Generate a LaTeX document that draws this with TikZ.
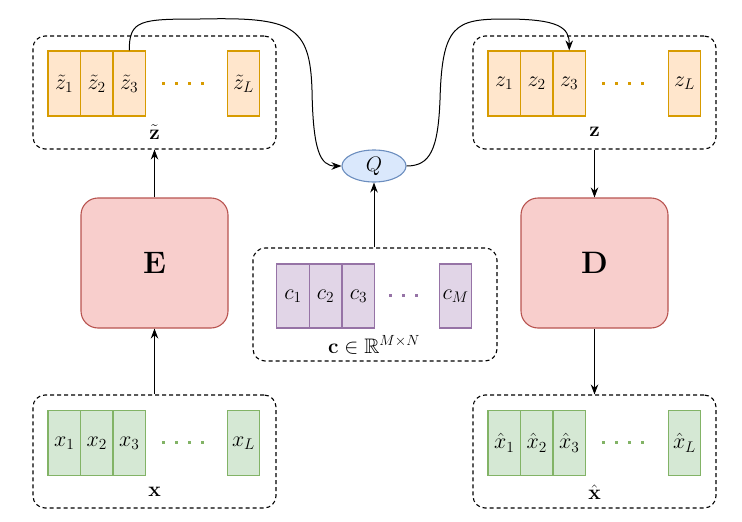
\RequirePackage{fix-cm}
\documentclass[tikz,border=0pt]{standalone}
\usepackage{amsmath,amssymb}
\usetikzlibrary{arrows.meta,shapes.geometric}
\definecolor{orS}{HTML}{D79B00}
\definecolor{orF}{HTML}{FFE6CC}
\definecolor{grS}{HTML}{82B366}
\definecolor{grF}{HTML}{D5E8D4}
\definecolor{puS}{HTML}{9673A6}
\definecolor{puF}{HTML}{E1D5E7}
\definecolor{reS}{HTML}{B85450}
\definecolor{reF}{HTML}{F8CECC}
\definecolor{blS}{HTML}{6C8EBF}
\definecolor{blF}{HTML}{DAE8FC}
\begin{document}
\begin{tikzpicture}[x=1pt,y=-1pt,
  font=\fontsize{22}{25}\selectfont,
  cell/.style={line width=1.2pt, minimum width=32.5pt, minimum height=65pt, inner sep=0pt},
  cellO/.style={cell, draw=orS, fill=orF},
  cellG/.style={cell, draw=grS, fill=grF},
  cellP/.style={cell, draw=puS, fill=puF, minimum height=64pt},
  group/.style={draw, dashed, dash pattern=on 4pt off 3pt, rounded corners=12pt, line width=1.1pt, minimum width=243pt, minimum height=113pt, inner sep=0pt},
  block/.style={draw=reS, fill=reF, rounded corners=17pt, line width=1.1pt, minimum width=147pt, minimum height=130pt, inner sep=0pt, font=\fontsize{31}{34}\selectfont},
  dots/.style={line width=3pt, dash pattern=on 3pt off 10pt},
  arr/.style={line width=1pt, -{Stealth[length=10pt,width=7.5pt]}},
  lbl/.style={inner sep=0pt, font=\fontsize{21}{24}\selectfont}
]
\useasboundingbox (0,0) rectangle (742,522);

% ---------- top-left: z tilde ----------
\node[group] (gZt) at (154.5,92.5) {};
\node[cellO] (zt1) at (64.25,83.5) {$\tilde{z}_1$};
\node[cellO] (zt2) at (96.75,83.5) {$\tilde{z}_2$};
\node[cellO] (zt3) at (129.25,83.5) {$\tilde{z}_3$};
\node[cellO] (ztL) at (243.5,83.5) {$\tilde{z}_L$};
\draw[dots, orS] (162,83) -- (204,83);
\node[lbl] (lZt) at (154.5,132) {$\tilde{\mathbf{z}}$};

% ---------- top-right: z ----------
\node[group] (gZ) at (594.5,92.5) {};
\node[cellO] (z1) at (504.25,83.5) {$z_1$};
\node[cellO] (z2) at (536.75,83.5) {$z_2$};
\node[cellO] (z3) at (569.25,83.5) {$z_3$};
\node[cellO] (zL) at (684.5,83.5) {$z_L$};
\draw[dots, orS] (602,83) -- (644,83);
\node[lbl] (lZ) at (594.5,132) {$\mathbf{z}$};

% ---------- bottom-left: x ----------
\node[group] (gX) at (154.5,451.5) {};
\node[cellG] (x1) at (64.25,443) {$x_1$};
\node[cellG] (x2) at (96.75,443) {$x_2$};
\node[cellG] (x3) at (129.25,443) {$x_3$};
\node[cellG] (xL) at (243.5,443) {$x_L$};
\draw[dots, grS] (162,442) -- (204,442);
\node[lbl] (lX) at (154.5,492) {$\mathbf{x}$};

% ---------- bottom-right: x hat ----------
\node[group] (gXh) at (594.5,451.5) {};
\node[cellG] (xh1) at (504.25,443) {$\hat{x}_1$};
\node[cellG] (xh2) at (536.75,443) {$\hat{x}_2$};
\node[cellG] (xh3) at (569.25,443) {$\hat{x}_3$};
\node[cellG] (xhL) at (684.5,443) {$\hat{x}_L$};
\draw[dots, grS] (602,442) -- (644,442);
\node[lbl] (lXh) at (594.5,492) {$\hat{\mathbf{x}}$};

% ---------- codebook ----------
\node[group, minimum width=244pt] (gC) at (375,304.5) {};
\node[cellP] (c1) at (293,296) {$c_1$};
\node[cellP] (c2) at (325.5,296) {$c_2$};
\node[cellP] (c3) at (358.5,296) {$c_3$};
\node[cellP] (cM) at (455.5,296) {$c_M$};
\draw[dots, puS] (389,295) -- (420,295);
\node[lbl] (lC) at (374,345) {$\mathbf{c}\in\mathbb{R}^{M\times N}$};

% ---------- encoder / decoder / quantizer ----------
\node[block] (E) at (154.5,263) {$\mathbf{E}$};
\node[block] (D) at (594.5,263) {$\mathbf{D}$};
\node[ellipse, draw=blS, fill=blF, line width=1.1pt, minimum width=64pt, minimum height=32pt, inner sep=0pt, font=\fontsize{21}{24}\selectfont] (Q) at (374,166) {$Q$};

% ---------- connectors ----------
\draw[arr] (gX.north) -- (E.south);
\draw[arr] (E.north) -- (gZt.south);
\draw[arr] (gC.north -| Q.south) -- (Q.south);
\draw[arr] (gZ.south) -- (D.north);
\draw[arr] (D.south) -- (gXh.north);
\draw[arr] (zt3.north) .. controls (129.25,20) and (140,19) .. (200,19)
  .. controls (292,17) and (310,25) .. (312,90)
  .. controls (313,150) and (320,166) .. (Q.west);
\draw[arr] (Q.east) .. controls (430,166) and (438,150) .. (440,100)
  .. controls (442,25) and (455,19) .. (505,19)
  .. controls (560,19) and (569.25,28) .. (z3.north);
\end{tikzpicture}
\end{document}
